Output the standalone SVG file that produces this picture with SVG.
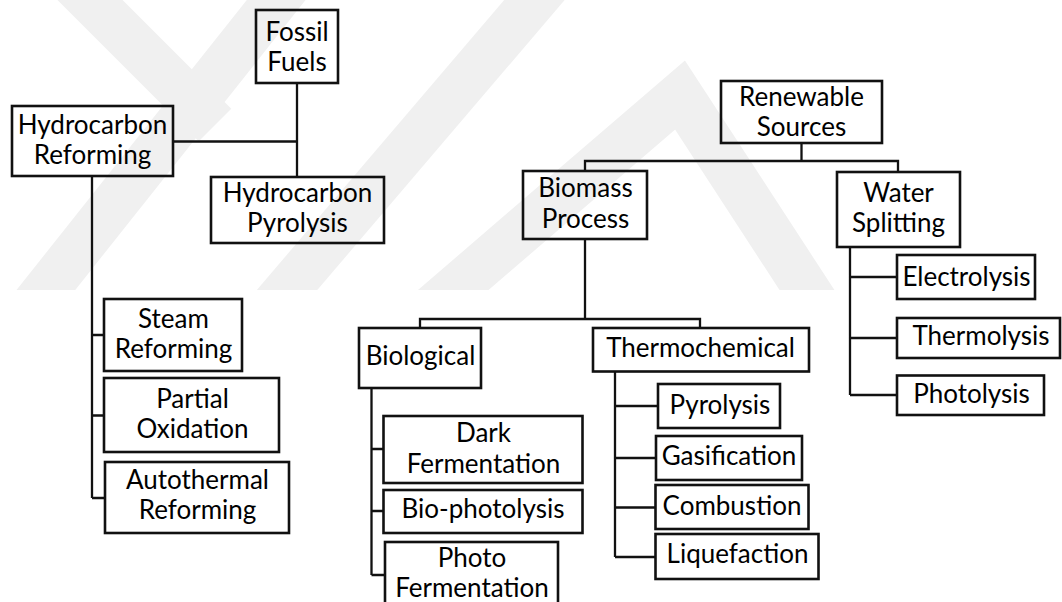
<svg xmlns="http://www.w3.org/2000/svg" width="1062" height="602" viewBox="0 0 1062 602">
<defs>
<style>
.bg{fill:#ffffff}
.wm{fill:none;stroke:#f0f0f0;stroke-width:46;stroke-linecap:butt;stroke-linejoin:miter}
.box{fill:none;stroke:#111;stroke-width:2.6}
.ln{fill:none;stroke:#111;stroke-width:2.3;stroke-linejoin:miter}
.t{font-family:Lato,"Liberation Sans",sans-serif;font-size:26px;fill:#000;text-anchor:middle}
</style>
<clipPath id="wmclip"><rect x="0" y="0" width="1062" height="290"/></clipPath>
</defs>
<rect class="bg" x="0" y="0" width="1062" height="602"/>
<g id="watermark" clip-path="url(#wmclip)">
<path class="wm" d="M60,-30 L215,125"/>
<path class="wm" d="M30,310 L300,-30"/>
<path class="wm" d="M270,310 L560,-30"/>
<path class="wm" d="M430,310 L680,95 L820,310"/>
</g>
<g id="connectors">
<path class="ln" d="M297,83 V177"/>
<path class="ln" d="M173,141.5 H297"/>
<path class="ln" d="M92,176 V498 M92,335 H104 M92,415.5 H104 M92,498 H105"/>
<path class="ln" d="M801.5,143 V161"/>
<path class="ln" d="M585,171 V161 H898 V172"/>
<path class="ln" d="M585,239 V319"/>
<path class="ln" d="M420,328 V319 H700 V328"/>
<path class="ln" d="M371.5,388 V575 M371.5,449 H383.5 M371.5,511 H383.5 M371.5,575 H385"/>
<path class="ln" d="M615,371.5 V557 M615,406 H658 M615,458 H656 M615,507.5 H655.5 M615,557 H655.5"/>
<path class="ln" d="M850,247 V395 M850,277 H897 M850,338 H897 M850,395 H897"/>
</g>
<g id="fossil"><rect class="box" x="256" y="10" width="82" height="73"/><text class="t" x="297" y="41">Fossil</text><text class="t" x="297" y="71">Fuels</text></g>
<g id="hydrocarbon-reforming"><rect class="box" x="12" y="106" width="161" height="70"/><text class="t" x="92.5" y="134">Hydrocarbon</text><text class="t" x="92.5" y="164">Reforming</text></g>
<g id="hydrocarbon-pyrolysis"><rect class="box" x="211" y="177" width="173" height="66"/><text class="t" x="297.5" y="202">Hydrocarbon</text><text class="t" x="297.5" y="232">Pyrolysis</text></g>
<g id="renewable"><rect class="box" x="721" y="81" width="161" height="62"/><text class="t" x="801.5" y="106">Renewable</text><text class="t" x="801.5" y="136">Sources</text></g>
<g id="biomass"><rect class="box" x="523" y="171" width="124" height="68"/><text class="t" x="585.5" y="197">Biomass</text><text class="t" x="585.5" y="228">Process</text></g>
<g id="water"><rect class="box" x="837" y="172" width="123" height="75"/><text class="t" x="898.5" y="202">Water</text><text class="t" x="898.5" y="232">Splitting</text></g>
<g id="electrolysis"><rect class="box" x="897" y="255" width="138" height="44"/><text class="t" x="966.5" y="286">Electrolysis</text></g>
<g id="thermolysis"><rect class="box" x="897" y="318" width="163" height="40"/><text class="t" x="981" y="345">Thermolysis</text></g>
<g id="photolysis"><rect class="box" x="897" y="375.5" width="147" height="39.5"/><text class="t" x="971.5" y="403">Photolysis</text></g>
<g id="steam"><rect class="box" x="104" y="299" width="138" height="72"/><text class="t" x="173.5" y="328">Steam</text><text class="t" x="173.5" y="358">Reforming</text></g>
<g id="partial"><rect class="box" x="104" y="378" width="175" height="74"/><text class="t" x="192.5" y="408">Partial</text><text class="t" x="192.5" y="438">Oxidation</text></g>
<g id="autothermal"><rect class="box" x="105" y="462" width="184" height="71"/><text class="t" x="197.5" y="489">Autothermal</text><text class="t" x="197.5" y="519">Reforming</text></g>
<g id="biological"><rect class="box" x="359" y="328" width="122" height="60"/><text class="t" x="420.5" y="365">Biological</text></g>
<g id="thermochemical"><rect class="box" x="593" y="328" width="216" height="43.5"/><text class="t" x="700.5" y="357">Thermochemical</text></g>
<g id="dark"><rect class="box" x="383.5" y="416" width="199" height="67"/><text class="t" x="483.5" y="442">Dark</text><text class="t" x="483.5" y="473">Fermentation</text></g>
<g id="biophotolysis"><rect class="box" x="383.5" y="490" width="199" height="43"/><text class="t" x="483" y="518">Bio-photolysis</text></g>
<g id="photofermentation"><rect class="box" x="385" y="542" width="173" height="70"/><text class="t" x="472" y="567">Photo</text><text class="t" x="472" y="597">Fermentation</text></g>
<g id="pyrolysis"><rect class="box" x="658" y="384" width="122" height="44"/><text class="t" x="720" y="414">Pyrolysis</text></g>
<g id="gasification"><rect class="box" x="656" y="436" width="146" height="44"/><text class="t" x="729" y="465">Gasification</text></g>
<g id="combustion"><rect class="box" x="655.5" y="485" width="153" height="44"/><text class="t" x="732" y="515">Combustion</text></g>
<g id="liquefaction"><rect class="box" x="655.5" y="534" width="163" height="45"/><text class="t" x="737.5" y="563">Liquefaction</text></g>
</svg>
